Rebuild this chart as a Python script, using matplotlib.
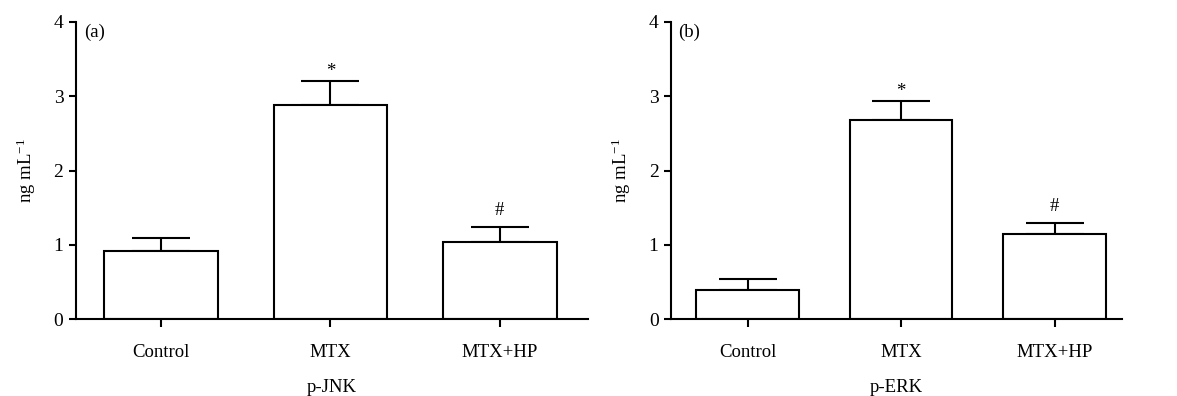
import matplotlib
matplotlib.use("Agg")
import matplotlib.pyplot as plt

plt.rcParams['font.family'] = ['Liberation Serif', 'DejaVu Serif']
plt.rcParams['mathtext.fontset'] = 'custom'
plt.rcParams['mathtext.rm'] = 'Liberation Serif'
plt.rcParams['mathtext.it'] = 'Liberation Serif:italic'

categories = ["Control", "MTX", "MTX+HP"]
jnk_values = [0.92, 2.88, 1.04]
jnk_err = [0.17, 0.32, 0.20]
erk_values = [0.39, 2.68, 1.14]
erk_err = [0.15, 0.25, 0.15]
jnk_marks = ["", "*", "#"]
erk_marks = ["", "*", "#"]

fig = plt.figure(figsize=(11.77, 3.96), dpi=100)
axa = fig.add_axes([76/1177, 1-319/396, (588-76)/1177, (319-22)/396])
axb = fig.add_axes([671/1177, 1-319/396, (1122-671)/1177, (319-22)/396])

def draw(ax, vals, errs, marks, xlabel, tag, xmax):
    x = range(len(categories))
    ax.bar(x, vals, width=0.67, color='white', edgecolor='black', linewidth=1.5, zorder=2)
    ax.errorbar(x, vals, yerr=[[0]*len(errs), errs], fmt='none', ecolor='black',
                elinewidth=1.5, capsize=21, capthick=1.5, zorder=1)
    for xi, v, e, m in zip(x, vals, errs, marks):
        if m:
            off = 1 if m == "*" else 6
            ax.annotate(m, (xi, v+e), xytext=(0, off), textcoords='offset points',
                        ha='center', va='bottom', fontsize=13.5)
    ax.set_xlim(-0.5, xmax)
    ax.set_ylim(0, 4)
    ax.set_yticks([0, 1, 2, 3, 4])
    ax.set_xticks(list(x))
    ax.set_xticklabels(categories, fontsize=13.5)
    ax.tick_params(axis='y', labelsize=14, width=1.5, length=5, pad=4)
    ax.tick_params(axis='x', width=1.5, length=6, pad=12)
    for s in ['top', 'right']:
        ax.spines[s].set_visible(False)
    for s in ['left', 'bottom']:
        ax.spines[s].set_linewidth(1.5)
    ax.set_ylabel(r'ng mL$^{-1}$', fontsize=13.5, labelpad=11)
    ax.set_xlabel(xlabel, fontsize=13.5, labelpad=13)
    ax.text(0.015, 0.995, tag, transform=ax.transAxes, fontsize=13.5, va='top', ha='left')

draw(axa, jnk_values, jnk_err, jnk_marks, "p-JNK", "(a)", 2.52)
draw(axb, erk_values, erk_err, erk_marks, "p-ERK", "(b)", 2.44)

fig.savefig("out.png", dpi=100)
